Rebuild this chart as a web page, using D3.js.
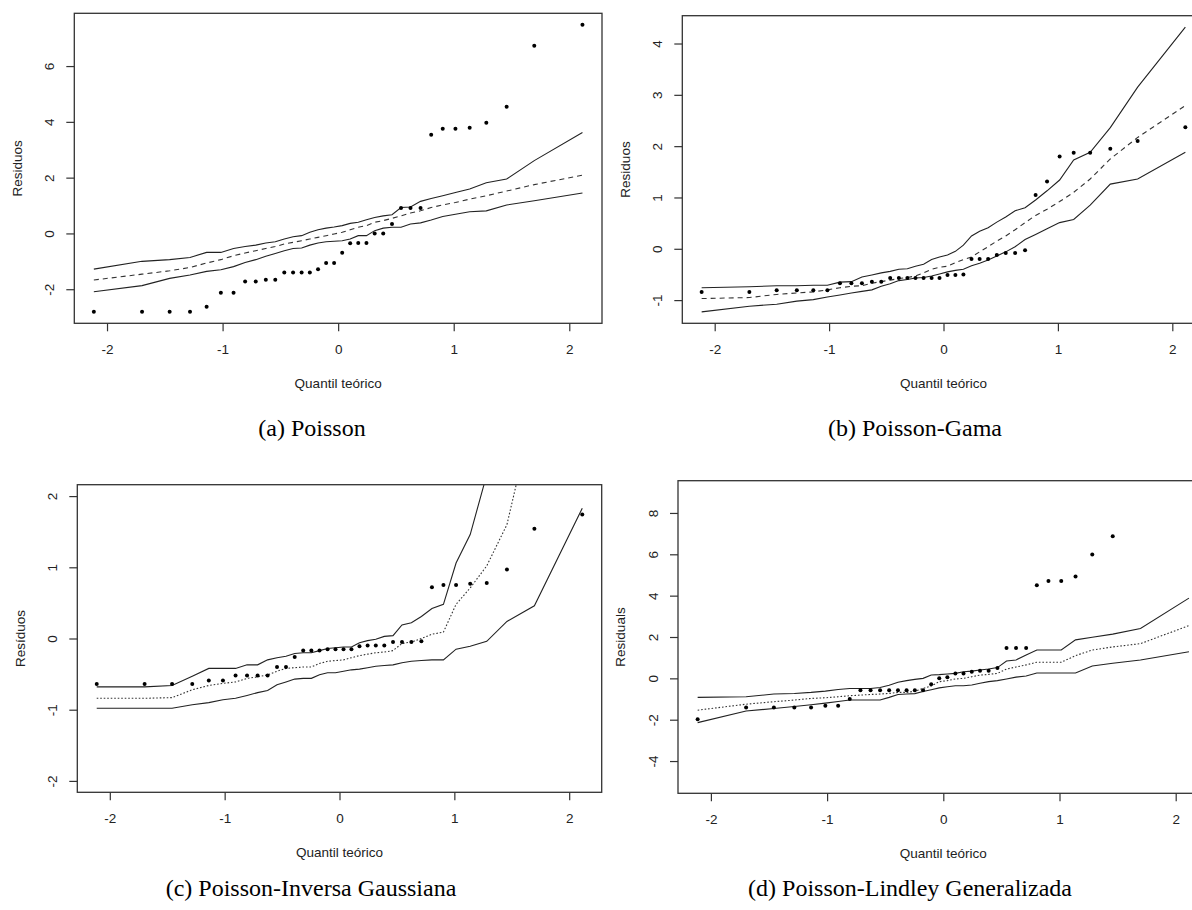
<!DOCTYPE html>
<html>
<head>
<meta charset="utf-8">
<script src="https://cdn.jsdelivr.net/npm/d3@7"></script>
<style>
  html, body { margin: 0; padding: 0; background: #fff; }
  svg { display: block; }
</style>
</head>
<body>
<svg id="chart" width="1192" height="910"></svg>
<script>
// ---------- DATA ----------
// theoretical normal quantiles (36 observations)
const quantis = [-2.114,-1.697,-1.458,-1.282,-1.138,-1.015,-0.905,-0.805,-0.713,-0.626,-0.544,-0.466,-0.390,-0.316,-0.245,-0.174,-0.104,-0.035,
                  0.035,0.104,0.174,0.245,0.316,0.390,0.466,0.544,0.626,0.713,0.805,0.905,1.015,1.138,1.282,1.458,1.697,2.114];

// (a) Poisson
const residA = [-2.81,-2.81,-2.81,-2.81,-2.63,-2.13,-2.13,-1.72,-1.72,-1.66,-1.66,-1.40,-1.40,-1.40,-1.40,-1.28,-1.06,-1.06,
                -0.69,-0.35,-0.34,-0.34,0.00,0.00,0.34,0.91,0.91,0.91,3.54,3.75,3.75,3.79,3.97,4.54,6.73,7.48];
const upperA = [-1.28,-1.00,-0.94,-0.86,-0.68,-0.68,-0.54,-0.47,-0.42,-0.34,-0.30,-0.20,-0.12,-0.08,0.04,0.13,0.19,0.23,
                0.28,0.36,0.40,0.49,0.57,0.63,0.67,0.93,0.95,1.15,1.25,1.35,1.47,1.59,1.82,1.95,2.61,3.62];
const meanA  = [-1.67,-1.46,-1.34,-1.22,-1.06,-0.94,-0.80,-0.70,-0.62,-0.54,-0.47,-0.38,-0.32,-0.26,-0.20,-0.14,-0.08,-0.02,
                0.04,0.13,0.22,0.28,0.40,0.46,0.54,0.63,0.73,0.81,0.93,1.02,1.11,1.23,1.35,1.52,1.75,2.09];
const lowerA = [-2.09,-1.87,-1.61,-1.49,-1.36,-1.30,-1.19,-1.04,-0.94,-0.82,-0.72,-0.62,-0.54,-0.52,-0.42,-0.34,-0.30,-0.28,
                -0.26,-0.20,-0.08,-0.08,0.10,0.19,0.22,0.22,0.34,0.38,0.48,0.61,0.69,0.78,0.81,1.02,1.17,1.45];

// (b) Poisson-Gama
const residB = [-0.84,-0.84,-0.81,-0.81,-0.81,-0.81,-0.67,-0.67,-0.67,-0.64,-0.64,-0.57,-0.57,-0.57,-0.57,-0.57,-0.57,-0.57,
                -0.51,-0.51,-0.50,-0.20,-0.20,-0.20,-0.12,-0.08,-0.08,-0.03,1.05,1.31,1.80,1.87,1.87,1.95,2.10,2.37];
const upperB = [-0.76,-0.74,-0.72,-0.72,-0.71,-0.71,-0.65,-0.64,-0.55,-0.51,-0.47,-0.44,-0.40,-0.39,-0.34,-0.30,-0.21,-0.16,
                -0.12,-0.05,0.07,0.25,0.34,0.41,0.52,0.62,0.74,0.80,0.95,1.13,1.34,1.73,1.88,2.36,3.15,4.32];
const meanB  = [-0.97,-0.95,-0.89,-0.86,-0.84,-0.80,-0.76,-0.73,-0.72,-0.67,-0.64,-0.61,-0.58,-0.56,-0.53,-0.47,-0.40,-0.36,
                -0.34,-0.27,-0.21,-0.16,-0.06,0.04,0.15,0.25,0.37,0.51,0.65,0.77,0.92,1.10,1.36,1.75,2.17,2.79];
const lowerB = [-1.23,-1.12,-1.08,-1.02,-0.99,-0.94,-0.90,-0.86,-0.83,-0.80,-0.73,-0.68,-0.62,-0.60,-0.57,-0.56,-0.53,-0.49,
                -0.45,-0.42,-0.40,-0.33,-0.28,-0.22,-0.14,-0.06,0.04,0.18,0.28,0.39,0.51,0.57,0.85,1.26,1.36,1.88];

// (c) Poisson-Inversa Gaussiana
const residC = [-0.64,-0.64,-0.64,-0.64,-0.59,-0.59,-0.52,-0.52,-0.52,-0.52,-0.40,-0.40,-0.26,-0.17,-0.17,-0.17,-0.15,-0.15,
                -0.15,-0.15,-0.11,-0.10,-0.10,-0.10,-0.05,-0.05,-0.05,-0.04,0.72,0.75,0.75,0.77,0.78,0.97,1.54,1.74];
const upperC = [-0.68,-0.68,-0.66,-0.53,-0.42,-0.42,-0.42,-0.37,-0.37,-0.30,-0.27,-0.25,-0.21,-0.20,-0.20,-0.17,-0.14,-0.13,
                -0.12,-0.12,-0.06,-0.03,-0.01,0.03,0.04,0.19,0.22,0.31,0.42,0.48,1.06,1.46,2.30,3.20,4.40,6.00];
const meanC  = [-0.84,-0.84,-0.83,-0.72,-0.66,-0.63,-0.61,-0.56,-0.54,-0.51,-0.46,-0.42,-0.41,-0.40,-0.40,-0.35,-0.32,-0.31,
                -0.30,-0.27,-0.24,-0.22,-0.20,-0.19,-0.17,-0.07,-0.05,0.00,0.06,0.09,0.48,0.71,1.02,1.60,3.26,4.50];
const lowerC = [-0.98,-0.98,-0.98,-0.93,-0.90,-0.86,-0.84,-0.80,-0.76,-0.73,-0.65,-0.61,-0.57,-0.56,-0.56,-0.51,-0.48,-0.48,
                -0.46,-0.44,-0.43,-0.41,-0.39,-0.38,-0.37,-0.34,-0.32,-0.31,-0.30,-0.30,-0.15,-0.11,-0.04,0.24,0.46,1.83];

// (d) Poisson-Lindley Generalizada
const residD = [-1.98,-1.41,-1.41,-1.41,-1.41,-1.33,-1.33,-1.00,-0.57,-0.57,-0.57,-0.57,-0.57,-0.57,-0.57,-0.57,-0.28,0.00,
                0.05,0.24,0.24,0.32,0.37,0.37,0.50,1.47,1.47,1.47,4.50,4.71,4.71,4.93,5.99,6.87,10.4,12.1];
const upperD = [-0.92,-0.89,-0.76,-0.73,-0.68,-0.62,-0.54,-0.49,-0.49,-0.49,-0.44,-0.33,-0.19,-0.11,-0.05,0.00,0.16,0.18,
                0.21,0.24,0.32,0.35,0.40,0.45,0.52,0.84,0.89,1.13,1.37,1.37,1.37,1.86,1.99,2.14,2.41,3.88];
const meanD  = [-1.54,-1.25,-1.13,-1.05,-0.97,-0.94,-0.89,-0.84,-0.81,-0.78,-0.76,-0.73,-0.68,-0.68,-0.62,-0.49,-0.37,-0.16,
                -0.11,-0.03,0.00,0.08,0.16,0.19,0.24,0.45,0.55,0.65,0.78,0.78,0.78,1.10,1.37,1.52,1.68,2.55];
const lowerD = [-2.14,-1.58,-1.46,-1.36,-1.28,-1.20,-1.12,-1.05,-1.05,-1.05,-1.05,-0.92,-0.78,-0.76,-0.74,-0.64,-0.55,-0.46,
                -0.41,-0.36,-0.36,-0.32,-0.24,-0.16,-0.11,-0.03,0.06,0.11,0.26,0.26,0.26,0.26,0.60,0.73,0.89,1.29];

const xTicks  = [-2, -1, 0, 1, 2];
const yTicksA = [-2, 0, 2, 4, 6];
const yTicksB = [-1, 0, 1, 2, 3, 4];
const yTicksC = [-2, -1, 0, 1, 2];
const yTicksD = [-4, -2, 0, 2, 4, 6, 8];
const yLimC = [-2, 2];
const yLimD = [-5, 9];

const xTitle = "Quantil teórico";
const yTitles = ["Residuos", "Residuos", "Resíduos", "Residuals"];
const captions = ["(a) Poisson", "(b) Poisson-Gama", "(c) Poisson-Inversa Gaussiana", "(d) Poisson-Lindley Generalizada"];

// ---------- LAYOUT ----------
const panels = [
  { res: residA, up: upperA, mid: meanA, low: lowerA, yTicks: yTicksA, ylim: null, dash: "5,4",
    frame: { l: 74.3, t: 13.3, w: 527.7, h: 310 }, cap: { x: 312, y: 436 } },
  { res: residB, up: upperB, mid: meanB, low: lowerB, yTicks: yTicksB, ylim: null, dash: "5,4",
    frame: { l: 682.3, t: 15.7, w: 522.4, h: 307.6 }, cap: { x: 915, y: 436 } },
  { res: residC, up: upperC, mid: meanC, low: lowerC, yTicks: yTicksC, ylim: yLimC, dash: "1.6,1.9",
    frame: { l: 77.3, t: 484.7, w: 524.4, h: 307.6 }, cap: { x: 311, y: 896 } },
  { res: residD, up: upperD, mid: meanD, low: lowerD, yTicks: yTicksD, ylim: yLimD, dash: "1.6,1.9",
    frame: { l: 678, t: 480.7, w: 530.6, h: 312.6 }, cap: { x: 910, y: 896 } }
];

const svg = d3.select("#chart");
svg.append("rect").attr("width", 1192).attr("height", 910).attr("fill", "#fff");

const ink = "#222";
const axisFont = "Liberation Sans, Arial, sans-serif";

function extend(lo, hi) { const r = hi - lo; return [lo - 0.04 * r, hi + 0.04 * r]; }

panels.forEach((p, i) => {
  const f = p.frame;
  const xDom = extend(d3.min(quantis), d3.max(quantis));
  let yDom;
  if (p.ylim) yDom = extend(p.ylim[0], p.ylim[1]);
  else yDom = extend(d3.min([...p.res, ...p.low]), d3.max([...p.res, ...p.up]));

  const x = d3.scaleLinear().domain(xDom).range([0, f.w]);
  const y = d3.scaleLinear().domain(yDom).range([f.h, 0]);

  const g = svg.append("g").attr("transform", `translate(${f.l},${f.t})`);

  const clipId = "clip" + i;
  g.append("clipPath").attr("id", clipId)
    .append("rect").attr("x", 0).attr("y", 0).attr("width", f.w).attr("height", f.h);

  const plot = g.append("g").attr("clip-path", `url(#${clipId})`);

  const line = d3.line().x(d => x(d[0])).y(d => y(d[1]));
  const mk = arr => quantis.map((q, k) => [q, arr[k]]);

  plot.append("path").attr("d", line(mk(p.up)))
    .attr("fill", "none").attr("stroke", ink).attr("stroke-width", 1.1);
  plot.append("path").attr("d", line(mk(p.low)))
    .attr("fill", "none").attr("stroke", ink).attr("stroke-width", 1.1);
  plot.append("path").attr("d", line(mk(p.mid)))
    .attr("fill", "none").attr("stroke", "#333").attr("stroke-width", 1.1)
    .attr("stroke-dasharray", p.dash);

  plot.selectAll("circle").data(mk(p.res)).join("circle")
    .attr("cx", d => x(d[0])).attr("cy", d => y(d[1])).attr("r", 2)
    .attr("fill", "#000");

  // frame
  g.append("rect").attr("x", 0).attr("y", 0).attr("width", f.w).attr("height", f.h)
    .attr("fill", "none").attr("stroke", "#333").attr("stroke-width", 1.3);

  // x axis
  const xa = g.append("g").attr("transform", `translate(0,${f.h})`)
    .call(d3.axisBottom(x).tickValues(xTicks).tickSize(8).tickPadding(13.5).tickFormat(d => d3.format("d")(d).replace("−", "-")));
  xa.select(".domain").remove();
  xa.selectAll("line").attr("stroke", "#333").attr("stroke-width", 1.2);
  xa.selectAll("text").attr("fill", ink).style("font-family", axisFont).style("font-size", "13.5px");

  // y axis (rotated labels like R)
  const ya = g.append("g")
    .call(d3.axisLeft(y).tickValues(p.yTicks).tickSize(8).tickFormat(d => d3.format("d")(d).replace("−", "-")));
  ya.select(".domain").remove();
  ya.selectAll("line").attr("stroke", "#333").attr("stroke-width", 1.2);
  ya.selectAll("text")
    .attr("x", 0).attr("y", -25).attr("dy", "0.35em")
    .attr("text-anchor", "middle").attr("transform", "rotate(-90)")
    .attr("fill", ink).style("font-family", axisFont).style("font-size", "13.5px");

  // titles
  g.append("text").attr("x", x(0)).attr("y", f.h + 59.5).attr("dy", "0.35em")
    .attr("text-anchor", "middle").attr("fill", ink)
    .style("font-family", axisFont).style("font-size", "13.5px").text(xTitle);
  g.append("text").attr("transform", `translate(${-57.5},${f.h / 2}) rotate(-90)`)
    .attr("dy", "0.35em").attr("text-anchor", "middle").attr("fill", ink)
    .style("font-family", axisFont).style("font-size", "13.5px").text(yTitles[i]);

  // caption
  svg.append("text").attr("x", p.cap.x).attr("y", p.cap.y)
    .attr("text-anchor", "middle").attr("fill", "#000")
    .style("font-family", "Liberation Serif, Times New Roman, serif").style("font-size", "24px")
    .text(captions[i]);
});
</script>
</body>
</html>
